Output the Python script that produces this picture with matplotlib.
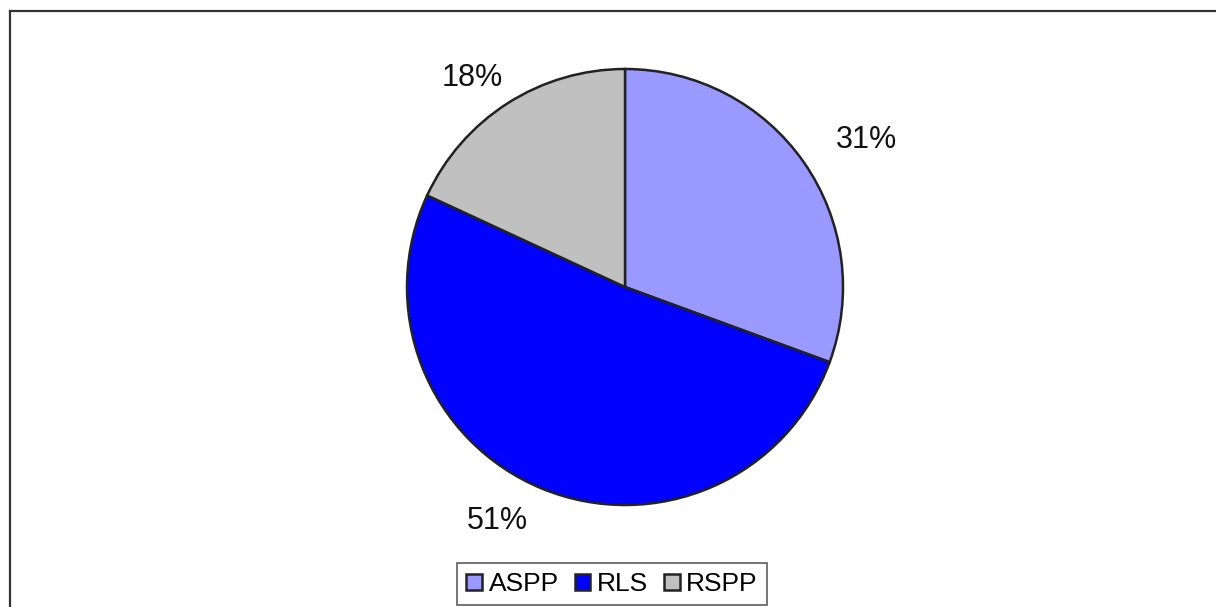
import matplotlib.pyplot as plt
from matplotlib.lines import Line2D

# donnees du graphique
labels = ['ASPP', 'RLS', 'RSPP']
values = [30.6, 51.3, 18.1]
colors = ['#9999FF', '#0000FF', '#C0C0C0']

plt.rcParams['font.family'] = ['Liberation Sans', 'DejaVu Sans']

W, H = 1216, 607
fig = plt.figure(figsize=(W / 100, H / 100), dpi=100)

# axes carre centre sur le camembert (centre 625,287 px ; rayon 218 px)
cx, cy, r, half = 625, 287, 218, 280
ax = fig.add_axes([(cx - half) / W, (H - cy - half) / H, 2 * half / W, 2 * half / H])

wedges, texts, autotexts = ax.pie(values, colors=colors, startangle=90, counterclock=False,
                                  autopct='%.0f%%', pctdistance=1.2,
                                  wedgeprops=dict(edgecolor='#222222', linewidth=1.8),
                                  textprops=dict(fontsize=22, color='#111111'))
# pie() remet les limites, donc on les fixe apres
ax.set_xlim(-half / r, half / r)
ax.set_ylim(-half / r, half / r)
ax.axis('off')

# petit decalage des etiquettes comme dans excel
offsets = [(0.126, -0.013), (-0.124, 0.036), (-0.055, -0.052)]
for t, (dx, dy) in zip(autotexts, offsets):
    x, y = t.get_position()
    t.set_position((x + dx, y + dy))
    t.set_clip_on(False)

# legende en bas
fig.legend(wedges, labels, loc='upper center', bbox_to_anchor=(612 / W, 1 - 563 / H),
           ncol=3, fontsize=19, frameon=True, fancybox=False, edgecolor='#333333',
           handlelength=0.6, handleheight=0.6, handletextpad=0.25, columnspacing=0.6,
           borderpad=0.35, borderaxespad=0)
fig.legends[0].get_frame().set_linewidth(1.2)

# cadre (haut et gauche visibles)
fig.add_artist(Line2D([10 / W, 1], [1 - 11 / H, 1 - 11 / H], color='#333333', linewidth=1.6))
fig.add_artist(Line2D([10 / W, 10 / W], [0, 1 - 11 / H], color='#333333', linewidth=1.6))

fig.savefig('out.png', dpi=100)
